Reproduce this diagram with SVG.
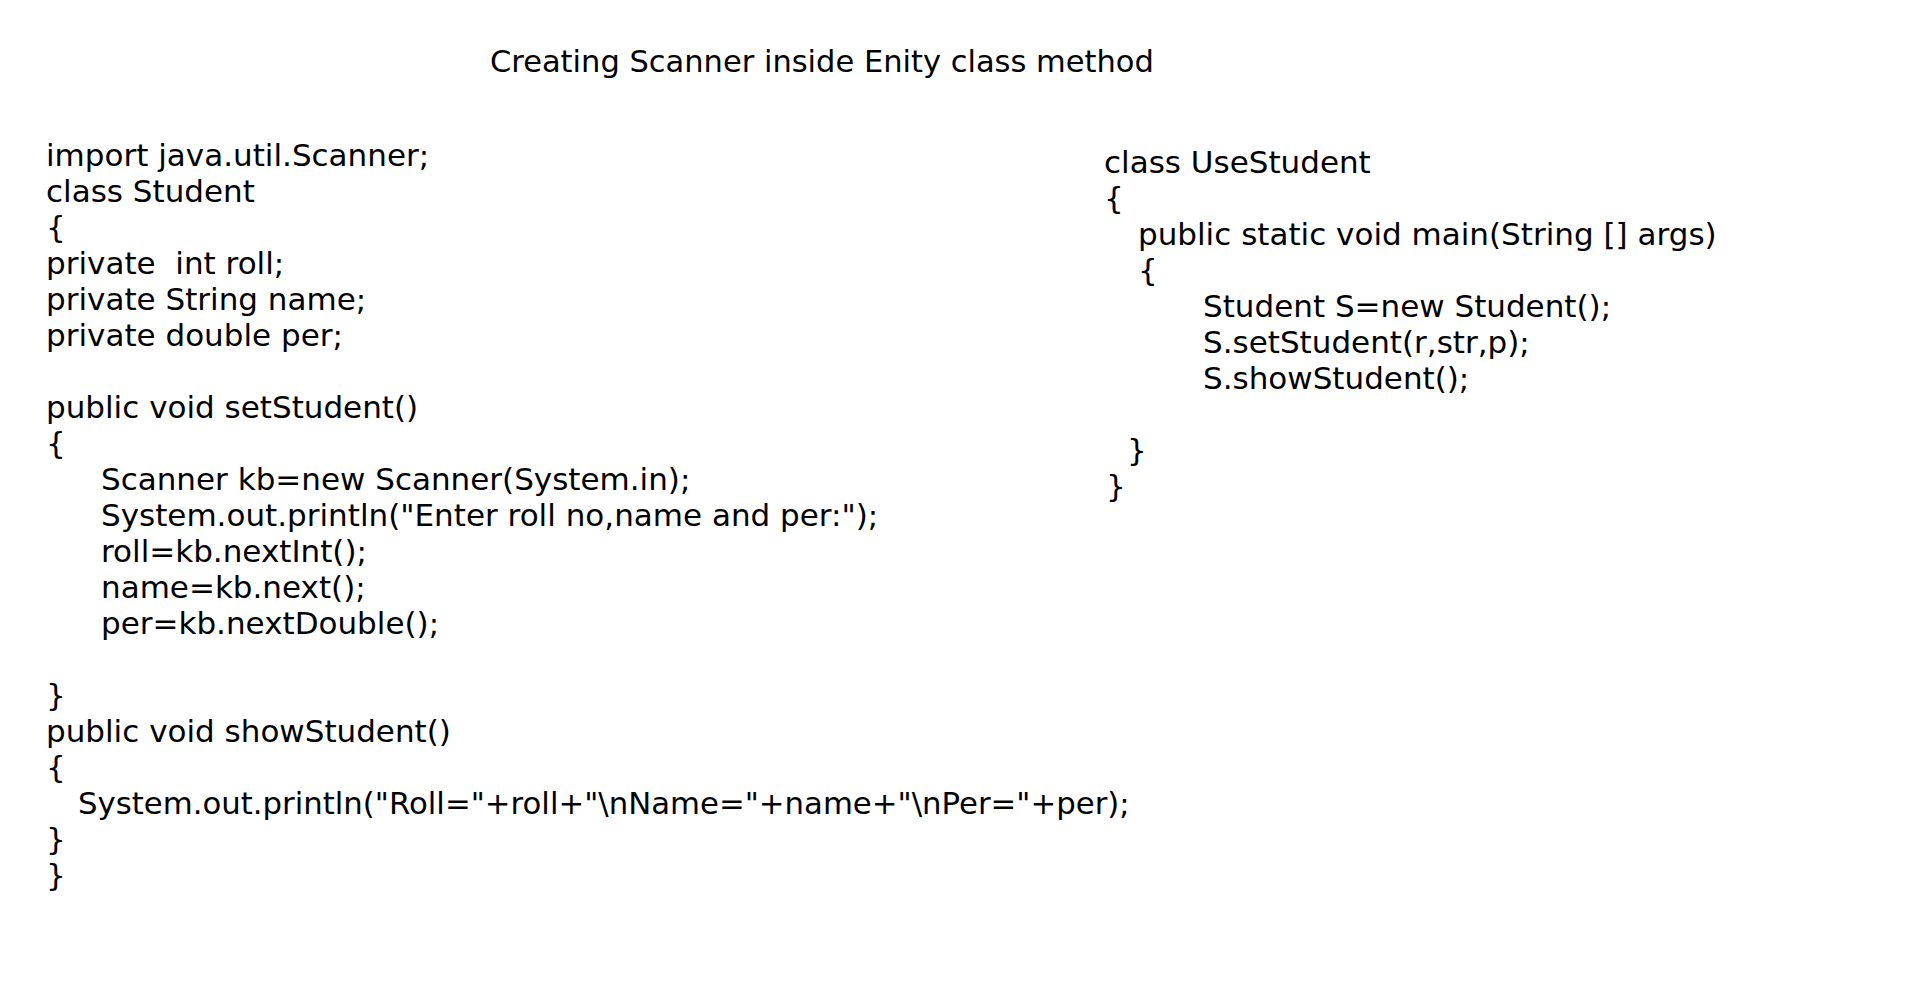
<svg xmlns="http://www.w3.org/2000/svg" width="1920" height="1001" viewBox="0 0 1920 1001">
<style>
text{font-family:"DejaVu Sans","Liberation Sans",sans-serif;font-size:31px;fill:#000;white-space:pre}
</style>
<rect width="1920" height="1001" fill="#fff"/>
<g id="title"><text x="490" y="72" style="font-size:30.5px">Creating Scanner inside Enity class method</text></g>
<g id="student-class">
<text x="46" y="166">import java.util.Scanner;</text>
<text x="46" y="202">class Student</text>
<text x="46" y="238">{</text>
<text x="46" y="274" xml:space="preserve">private  int roll;</text>
<text x="46" y="310">private String name;</text>
<text x="46" y="346">private double per;</text>
<text x="46" y="418">public void setStudent()</text>
<text x="46" y="454">{</text>
<text x="101" y="490">Scanner kb=new Scanner(System.in);</text>
<text x="101" y="526">System.out.println("Enter roll no,name and per:");</text>
<text x="101" y="562">roll=kb.nextInt();</text>
<text x="101" y="598">name=kb.next();</text>
<text x="101" y="634">per=kb.nextDouble();</text>
<text x="46" y="706">}</text>
<text x="46" y="742">public void showStudent()</text>
<text x="46" y="778">{</text>
<text x="78" y="814" style="font-size:30.75px">System.out.println("Roll="+roll+"\nName="+name+"\nPer="+per);</text>
<text x="46" y="850">}</text>
<text x="46" y="886">}</text>
</g>
<g id="usestudent-class">
<text x="1104" y="173">class UseStudent</text>
<text x="1104" y="209">{</text>
<text x="1138" y="245">public static void main(String [] args)</text>
<text x="1138" y="281">{</text>
<text x="1203" y="317">Student S=new Student();</text>
<text x="1203" y="353">S.setStudent(r,str,p);</text>
<text x="1203" y="389">S.showStudent();</text>
<text x="1127" y="461">}</text>
<text x="1106" y="497">}</text>
</g>
<g id="connectors"/>
</svg>
